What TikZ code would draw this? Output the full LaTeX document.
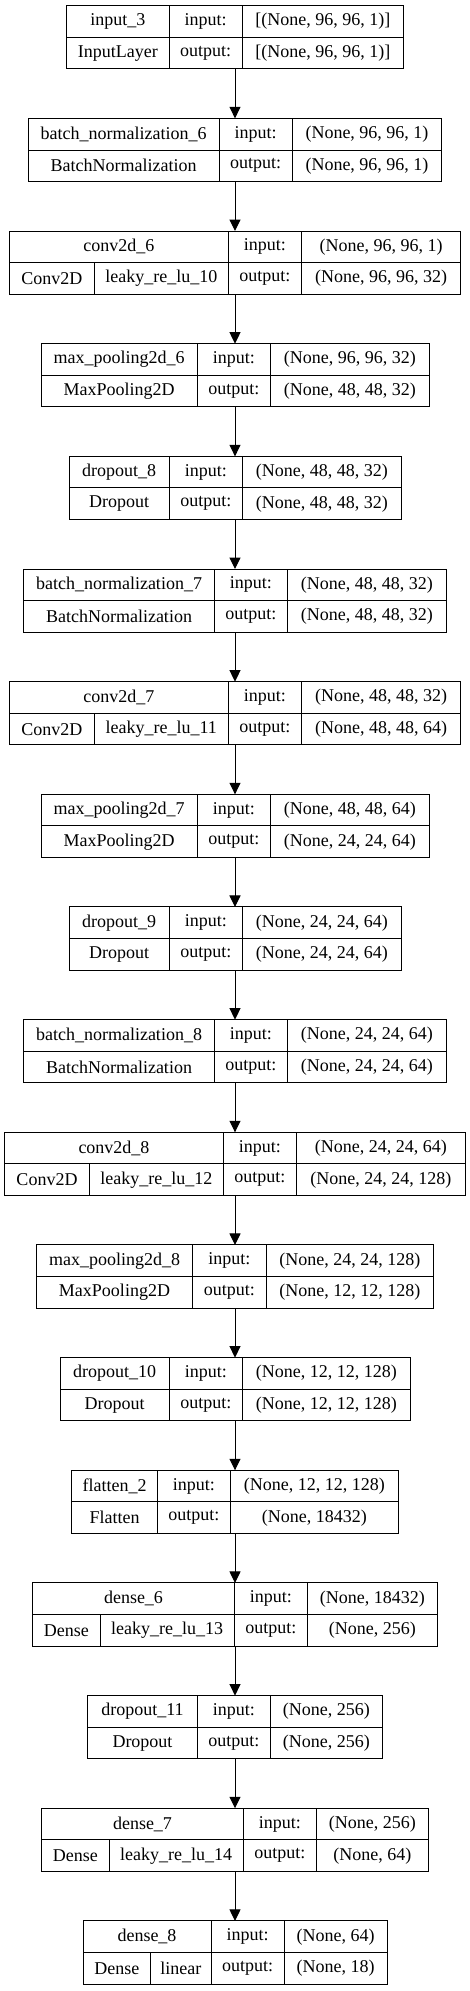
\documentclass[tikz,border=0pt]{standalone}
\usepackage{fontspec}
\setmainfont{Liberation Serif}
\usetikzlibrary{arrows.meta}

\tikzset{
  cell/.style={draw, rectangle, line width=1pt, inner sep=0pt, outer sep=0pt,
    minimum height=31.65pt, anchor=north west, font=\fontsize{18}{22}\selectfont},
  layerbox/.style={rectangle, inner sep=0pt, outer sep=0pt, minimum height=63.3pt},
  flow/.style={-{Triangle[length=11.5pt,width=11pt]}, line width=1pt},
}

\newcommand{\plainlayer}[7]{%
  \pgfmathsetmacro{\ly}{5.7+112.66*#1}%
  \pgfmathsetmacro{\lm}{\ly+31.65}%
  \pgfmathsetmacro{\lw}{470-2*#2}%
  \pgfmathsetmacro{\wa}{#3-#2}%
  \pgfmathsetmacro{\cb}{#3+73.3}%
  \pgfmathsetmacro{\wc}{470-#2-\cb}%
  \node[layerbox, minimum width=\lw pt] (l#1) at (235,\ly+31.65) {};
  \node[cell, minimum width=\wa pt] (l#1-name) at (#2,\ly) {#4};
  \node[cell, minimum width=\wa pt] (l#1-class) at (#2,\lm) {#5};
  \node[cell, minimum width=73.3pt] (l#1-in) at (#3,\ly) {input:};
  \node[cell, minimum width=73.3pt] (l#1-out) at (#3,\lm) {output:};
  \node[cell, minimum width=\wc pt] (l#1-inv) at (\cb,\ly) {#6};
  \node[cell, minimum width=\wc pt] (l#1-outv) at (\cb,\lm) {#7};
}

\newcommand{\actlayer}[9]{%
  \pgfmathsetmacro{\ly}{5.7+112.66*#1}%
  \pgfmathsetmacro{\lm}{\ly+31.65}%
  \pgfmathsetmacro{\lw}{470-2*#2}%
  \pgfmathsetmacro{\wa}{#3-#2}%
  \pgfmathsetmacro{\wk}{#4-#2}%
  \pgfmathsetmacro{\wt}{#3-#4}%
  \pgfmathsetmacro{\cb}{#3+73.3}%
  \pgfmathsetmacro{\wc}{470-#2-\cb}%
  \node[layerbox, minimum width=\lw pt] (l#1) at (235,\ly+31.65) {};
  \node[cell, minimum width=\wa pt] (l#1-name) at (#2,\ly) {#5};
  \node[cell, minimum width=\wk pt] (l#1-class) at (#2,\lm) {#6};
  \node[cell, minimum width=\wt pt] (l#1-act) at (#4,\lm) {#7};
  \node[cell, minimum width=73.3pt] (l#1-in) at (#3,\ly) {input:};
  \node[cell, minimum width=73.3pt] (l#1-out) at (#3,\lm) {output:};
  \node[cell, minimum width=\wc pt] (l#1-inv) at (\cb,\ly) {#8};
  \node[cell, minimum width=\wc pt] (l#1-outv) at (\cb,\lm) {#9};
}

\begin{document}
\begin{tikzpicture}[x=1pt, y=-1pt]
            \useasboundingbox (0,0) rectangle (469,1991);
            \plainlayer{0}{66.7}{169}{input\_3}{InputLayer}{[(None, 96, 96, 1)]}{[(None, 96, 96, 1)]}
            \plainlayer{1}{28.3}{219}{batch\_normalization\_6}{BatchNormalization}{(None, 96, 96, 1)}{(None, 96, 96, 1)}
            \actlayer{2}{9.3}{228.3}{94.3}{conv2d\_6}{Conv2D}{leaky\_re\_lu\_10}{(None, 96, 96, 1)}{(None, 96, 96, 32)}
            \plainlayer{3}{41}{197.3}{max\_pooling2d\_6}{MaxPooling2D}{(None, 96, 96, 32)}{(None, 48, 48, 32)}
            \plainlayer{4}{69}{169.3}{dropout\_8}{Dropout}{(None, 48, 48, 32)}{(None, 48, 48, 32)}
            \plainlayer{5}{23.7}{214.3}{batch\_normalization\_7}{BatchNormalization}{(None, 48, 48, 32)}{(None, 48, 48, 32)}
            \actlayer{6}{9.3}{228.3}{94.3}{conv2d\_7}{Conv2D}{leaky\_re\_lu\_11}{(None, 48, 48, 32)}{(None, 48, 48, 64)}
            \plainlayer{7}{41}{197.3}{max\_pooling2d\_7}{MaxPooling2D}{(None, 48, 48, 64)}{(None, 24, 24, 64)}
            \plainlayer{8}{69}{169.3}{dropout\_9}{Dropout}{(None, 24, 24, 64)}{(None, 24, 24, 64)}
            \plainlayer{9}{23.7}{214.3}{batch\_normalization\_8}{BatchNormalization}{(None, 24, 24, 64)}{(None, 24, 24, 64)}
            \actlayer{10}{4.7}{223.3}{89.3}{conv2d\_8}{Conv2D}{leaky\_re\_lu\_12}{(None, 24, 24, 64)}{(None, 24, 24, 128)}
            \plainlayer{11}{36.3}{192.7}{max\_pooling2d\_8}{MaxPooling2D}{(None, 24, 24, 128)}{(None, 12, 12, 128)}
            \plainlayer{12}{60}{169.3}{dropout\_10}{Dropout}{(None, 12, 12, 128)}{(None, 12, 12, 128)}
            \plainlayer{13}{71.7}{157.3}{flatten\_2}{Flatten}{(None, 12, 12, 128)}{(None, 18432)}
            \actlayer{14}{32.7}{234.3}{100}{dense\_6}{Dense}{leaky\_re\_lu\_13}{(None, 18432)}{(None, 256)}
            \plainlayer{15}{87.7}{197.3}{dropout\_11}{Dropout}{(None, 256)}{(None, 256)}
            \actlayer{16}{41.7}{243.3}{109}{dense\_7}{Dense}{leaky\_re\_lu\_14}{(None, 256)}{(None, 64)}
            \actlayer{17}{83}{211}{150.7}{dense\_8}{Dense}{linear}{(None, 64)}{(None, 18)}
            \foreach \i [evaluate=\i as \j using int(\i+1)] in {0,...,16}
              \draw[flow] (l\i.south) -- (l\j.north);
        \end{tikzpicture}
\end{document}
